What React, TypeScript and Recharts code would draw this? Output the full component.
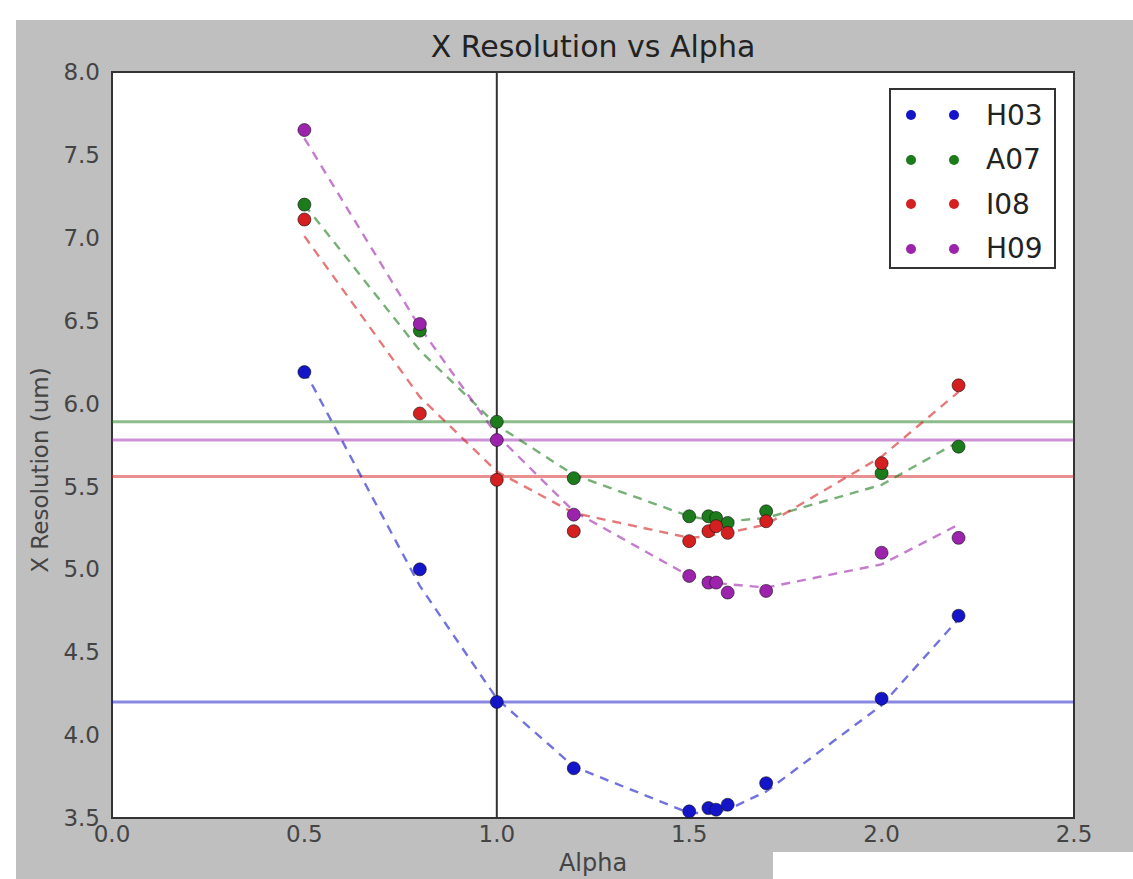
import React from "react"
import {
  ComposedChart,
  Line,
  Scatter,
  XAxis,
  YAxis,
  CartesianGrid,
  ReferenceLine,
  ReferenceArea,
  Legend,
} from "recharts"

const alpha = [0.5, 0.8, 1.0, 1.2, 1.5, 1.55, 1.57, 1.6, 1.7, 2.0, 2.2]

const h03 = [6.19, 5.0, 4.2, 3.8, 3.54, 3.56, 3.55, 3.58, 3.71, 4.22, 4.72]
const a07 = [7.2, 6.44, 5.89, 5.55, 5.32, 5.32, 5.31, 5.28, 5.35, 5.58, 5.74]
const i08 = [7.11, 5.94, 5.54, 5.23, 5.17, 5.23, 5.26, 5.22, 5.29, 5.64, 6.11]
const h09 = [7.65, 6.48, 5.78, 5.33, 4.96, 4.92, 4.92, 4.86, 4.87, 5.1, 5.19]

const fitH03 = [6.2, 4.9, 4.22, 3.81, 3.53, 3.53, 3.54, 3.55, 3.66, 4.18, 4.7]
const fitA07 = [7.2, 6.32, 5.87, 5.57, 5.32, 5.3, 5.3, 5.29, 5.31, 5.51, 5.77]
const fitI08 = [7.01, 6.04, 5.59, 5.34, 5.19, 5.2, 5.21, 5.22, 5.27, 5.68, 6.07]
const fitH09 = [7.6, 6.46, 5.81, 5.35, 4.96, 4.93, 4.92, 4.91, 4.89, 5.03, 5.27]

// horizontal reference levels
const levels = [4.2, 5.89, 5.56, 5.78]

const names = ["H03", "A07", "I08", "H09"]
const colors = ["#1414c8", "#1c7c1c", "#d42020", "#9c24ac"]

const xDomain = [0, 2.5]
const yDomain = [3.5, 8]
const xTicks = [0, 0.5, 1.0, 1.5, 2.0, 2.5]
const yTicks = [3.5, 4.0, 4.5, 5.0, 5.5, 6.0, 6.5, 7.0, 7.5, 8.0]

const measured = [h03, a07, i08, h09]
const fits = [fitH03, fitA07, fitI08, fitH09]

const toPoints = (ys: number[]) => alpha.map((x, i) => ({ x, y: ys[i] }))

const font = "'DejaVu Sans', sans-serif"

const Dot = (color: string) => (props: any) =>
  <circle cx={props.cx} cy={props.cy} r={6.5} fill={color} stroke="#111" strokeWidth={0.6} />

function LegendBox() {
  return (
    <div
      style={{
        width: 167,
        height: 181,
        border: "2px solid #333",
        background: "#fff",
        boxSizing: "border-box",
        fontFamily: font,
      }}
    >
      {names.map((n, i) => (
        <div key={n} style={{ height: 44.5, display: "flex", alignItems: "center", marginTop: i === 0 ? 3 : 0 }}>
          <svg width={95} height={20}>
            <circle cx={20} cy={10} r={5} fill={colors[i]} />
            <circle cx={63} cy={10} r={5} fill={colors[i]} />
          </svg>
          <span style={{ fontSize: 28, color: "#222" }}>{n}</span>
        </div>
      ))}
    </div>
  )
}

const YLabel = () => (
  <text
    x={24}
    y={450}
    transform="rotate(-90 24 450)"
    textAnchor="middle"
    dominantBaseline="central"
    fill="#444"
    fontSize={23}
    fontFamily={font}
  >
    X Resolution (um)
  </text>
)

export default function App() {
  return (
    <div style={{ position: "absolute", left: 0, top: 0, width: 1133, height: 879, background: "#fff", overflow: "hidden" }}>
      <div style={{ position: "absolute", left: 16, top: 20, width: 1117, height: 859, background: "#bfbfbf" }}>
        <div
          style={{
            position: "absolute",
            left: 96,
            width: 962,
            top: 9,
            textAlign: "center",
            fontFamily: font,
            fontSize: 30,
            color: "#222",
          }}
        >
          X Resolution vs Alpha
        </div>
        <ComposedChart width={1117} height={859} margin={{ top: 52, right: 59, bottom: 0, left: 0 }}>
          <CartesianGrid fill="#fff" horizontal={false} vertical={false} />
          <XAxis
            type="number"
            dataKey="x"
            domain={xDomain}
            ticks={xTicks}
            allowDataOverflow
            height={61}
            tickLine={false}
            axisLine={false}
            tickSize={6}
            tickMargin={2}
            tickFormatter={(v: number) => v.toFixed(1)}
            tick={{ fill: "#444", fontSize: 23, fontFamily: font }}
            label={{ value: "Alpha", position: "insideBottom", offset: 8, fill: "#444", fontSize: 24, fontFamily: font }}
          />
          <YAxis
            type="number"
            dataKey="y"
            domain={yDomain}
            ticks={yTicks}
            allowDataOverflow
            width={96}
            tickLine={false}
            axisLine={false}
            tickSize={6}
            tickMargin={6}
            tickFormatter={(v: number) => v.toFixed(1)}
            tick={{ fill: "#444", fontSize: 23, fontFamily: font }}
            label={{ content: () => <YLabel /> }}
          />
          {levels.map((v, i) => (
            <ReferenceLine
              key={"h" + i}
              segment={[
                { x: xDomain[0], y: v },
                { x: xDomain[1], y: v },
              ]}
              stroke={colors[i]}
              strokeOpacity={0.5}
              strokeWidth={3}
            />
          ))}
          <ReferenceLine x={1.0} stroke="#333" strokeWidth={2} />
          {fits.map((f, i) => (
            <Line
              key={"f" + i}
              data={toPoints(f)}
              dataKey="y"
              type="linear"
              stroke={colors[i]}
              strokeOpacity={0.6}
              strokeWidth={2.4}
              strokeDasharray="9 7"
              dot={false}
              activeDot={false}
              legendType="none"
              isAnimationActive={false}
            />
          ))}
          {measured.map((m, i) => (
            <Scatter
              key={names[i]}
              name={names[i]}
              data={toPoints(m)}
              fill={colors[i]}
              shape={Dot(colors[i])}
              isAnimationActive={false}
            />
          ))}
          <ReferenceArea x1={xDomain[0]} x2={xDomain[1]} y1={yDomain[0]} y2={yDomain[1]} fill="none" stroke="#333" strokeWidth={2} />
          <Legend
            layout="vertical"
            align="center"
            verticalAlign="middle"
            wrapperStyle={{ left: 873, top: 68, width: 167 }}
            content={() => <LegendBox />}
          />
        </ComposedChart>
      </div>
      <div style={{ position: "absolute", left: 773, top: 852, width: 360, height: 27, background: "#fff" }} />
    </div>
  )
}
